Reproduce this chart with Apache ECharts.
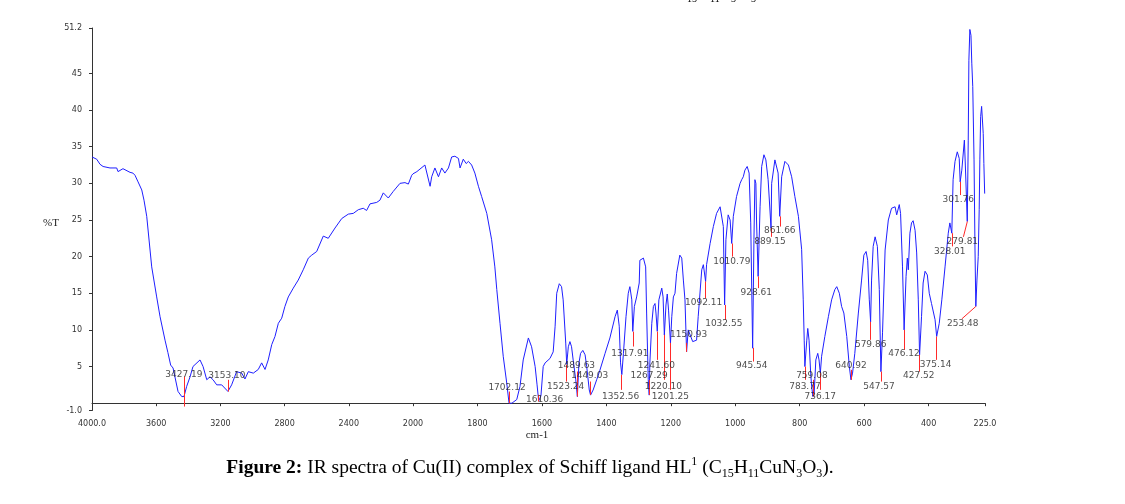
<!DOCTYPE html>
<html><head><meta charset="utf-8">
<script src="https://cdn.jsdelivr.net/npm/echarts@6/dist/echarts.min.js"></script>
<style>html,body{margin:0;padding:0;background:#fff}#c{width:1125px;height:504px}</style>
</head><body><div id="c"></div>
<script>
// ---- spectrum (wavenumber cm-1, %T) ----
const wavenumbers = [4000,3971,3950,3931,3888,3846,3838,3807,3763,3745,3732,3713,3690,3676,3659,3628,3597,3576,3545,3527,3510,3495,3464,3441,3427,3410,3389,3371,3327,3308,3285,3265,3246,3223,3192,3153,3130,3099,3067,3047,3026,2995,2964,2943,2922,2902,2880,2860,2839,2818,2798,2777,2746,2715,2684,2652,2631,2600,2559,2528,2486,2444,2403,2372,2341,2310,2289,2268,2226,2206,2185,2154,2123,2081,2050,2029,2008,2000,
1988,1963,1957,1947,1942,1932,1921,1911,1901,1890,1880,1870,1859,1854,1844,1835,1828,1818,1808,1797,1787,1771,1756,1746,1740,1730,1720,1709,1702,1693,1678,1668,1658,1642,1632,1621,1615,1610,1603,1596,1590,1575,1565,1559,1554,1546,1539,1534,1526,1523,1518,1513,1508,1503,1495,1490,1485,1480,1473,1466,1461,1453,1449,1441,1430,1420,1404,1389,1373,1366,1360,1356,1352,1347,1339,1332,1327,1321,1318,1313,1306,1298,1296,1285,1278,1275,1270,1267,1265,1259,1254,1249,1246,1242,1237,1228,1224,1220,1215,1211,1207,1201,1197,1192,1187,1182,1172,1166,1161,1156,1151,1146,1141,1132,1120,1115,1104,1099,1092,1089,1078,1068,1058,1047,1042,1037,1033,1029,1022,1016,1011,1006,996,985,980,975,970,963,957,952,946,942,939,936,934,929,923,918,911,905,898,889,887,877,871,867,862,856,846,835,825,815,804,794,789,786,784,778,775,771,766,763,759,755,750,744,740,736,732,722,711,701,691,685,677,670,663,654,646,641,636,629,618,608,601,594,589,584,580,577,572,566,559,553,550,548,543,535,525,515,504,499,491,487,481,476,470,466,463,458,453,448,442,437,432,428,422,417,411,404,398,391,380,375,367,359,349,339,334,328,324,318,311,305,302,297,289,286,280,277,275,272,268.5,266,263,259,256,253.5,250,246,243,241,238.5,235.5,230.5,228.5,226];
const transmittance = [33.6,33.3,32.6,32.3,32.1,32.1,31.6,32.0,31.5,31.4,31.1,30.2,29.1,27.7,25.5,18.6,14.5,11.8,8.6,6.9,5.2,4.8,1.6,0.9,0.9,2.3,3.6,5.0,5.9,5.0,3.2,3.6,3.2,2.5,2.5,1.6,2.5,4.3,4.1,3.3,4.3,4.1,4.6,5.5,4.6,5.9,8.0,9.1,10.9,11.6,13.2,14.5,15.7,16.8,18.2,19.8,20.2,20.7,22.8,22.5,23.9,25.2,25.8,25.9,26.4,26.6,26.3,27.2,27.4,27.7,28.7,28.0,28.9,30.0,30.1,29.9,31.1,31.3,
31.6,32.5,32.3,29.6,30.9,32.1,30.9,32.1,31.4,32.1,33.6,33.7,33.4,32.1,33.3,32.7,33.0,32.5,31.4,29.6,28.2,25.9,22.3,18.6,15.5,10.9,6.4,2.7,0.0,0.0,0.5,2.3,5.9,8.9,7.7,5.0,2.5,0.3,1.0,5.0,5.5,6.1,7.0,10.5,15.0,16.3,15.9,14.1,8.2,5.3,7.7,8.4,7.7,5.9,3.2,0.9,5.5,6.8,7.2,6.6,5.0,1.8,1.1,1.8,3.2,4.5,6.8,8.9,11.8,12.7,10.5,5.5,3.9,6.8,11.8,15.0,15.9,14.1,9.8,13.2,14.5,16.4,19.5,19.8,18.6,12.3,3.2,1.1,5.5,10.9,13.2,13.6,12.3,9.8,14.1,15.7,14.5,9.3,13.4,14.9,12.7,8.2,11.8,14.5,15.0,17.7,20.2,19.8,16.8,14.1,7.0,10.0,10.2,8.4,8.6,11.8,18.2,18.9,16.6,18.9,21.8,24.1,25.9,26.8,26.6,24.1,13.4,22.3,25.7,25.0,21.8,25.5,28.2,30.0,30.5,30.9,31.8,32.3,31.4,24.6,7.5,22.3,30.5,30.0,25.0,17.3,26.8,32.3,33.9,33.2,30.5,23.9,30.0,33.2,33.0,31.4,25.5,30.9,33.0,32.5,30.9,28.2,25.5,21.0,14.1,8.6,5.0,8.6,10.2,8.6,4.1,2.3,0.9,1.4,5.9,6.8,5.9,4.1,6.4,9.1,11.8,14.1,15.5,15.9,15.0,13.2,12.3,9.1,5.0,3.2,4.1,6.8,12.3,16.8,20.2,20.7,19.5,14.1,11.1,16.8,21.4,22.7,21.4,15.5,8.6,4.3,9.6,20.9,25.0,26.6,26.8,25.7,27.1,25.9,18.6,10.0,17.3,19.8,18.2,23.2,24.6,24.9,23.6,20.5,14.1,6.6,11.8,16.4,18.0,17.5,15.0,13.6,11.4,9.1,10.9,14.1,18.6,23.2,24.6,23.2,30.5,33.0,34.3,33.4,30.2,31.8,35.9,32.5,24.8,35.9,46.8,51.0,50.2,46.4,43.2,33.2,20.9,13.2,16.8,20.0,26.4,33.2,39.1,40.5,36.8,32.7,28.6];

// ---- annotated peaks ----
const peakWn = [3427.19,3153.10,1702.12,1610.36,1523.24,1489.63,1449.03,1352.56,1317.91,1267.29,1241.60,1220.10,1201.25,1150.93,1092.11,1032.55,1010.79,945.54,928.61,889.15,861.66,783.77,759.08,736.17,640.92,579.86,547.57,476.12,427.52,375.14,328.01,301.76,279.81,253.48];
const peakText = peakWn.map(v => v.toFixed(2));
// red marker segment: from redT1 (at peak) to redT2 (toward label), optional slanted end wavenumber
const redT1 = [3.64,1.59,0.01,0.23,5.23,0.91,1.14,3.87,9.77,1.14,9.77,9.32,8.23,7.0,16.6,13.4,21.8,7.55,17.3,23.9,25.5,5.0,0.91,4.1,3.19,11.1,4.32,10.0,6.6,9.09,23.2,30.2,24.8,13.2];
const redT2 = [-0.46,3.19,1.59,1.14,2.95,4.32,2.95,1.82,7.73,3.19,5.91,3.19,1.82,8.23,14.3,11.37,20.0,5.68,15.7,22.7,24.1,3.19,3.19,1.82,4.55,8.64,2.95,7.28,4.32,5.91,21.4,28.4,22.7,11.5];
const redWn2 = {279.81: 292, 253.48: 297};
// label placement (layout): label centre %T and horizontal pixel shift
const labelT = [3.87,3.77,2.05,0.46,2.27,5.10,3.73,0.91,6.73,3.73,5.10,2.27,0.91,9.32,13.65,10.9,19.3,5.10,15.1,22.1,23.6,2.27,3.77,0.91,5.10,7.96,2.27,6.69,3.77,5.23,20.7,27.8,22.05,10.8];
const labelDx = [0,-1,-2,6,-1,-1,-1,-1,-3,0,-1,-1,0,2,-2,-1,0,-1,-2,-1,0,0,-1,0,0,0,-2,0,-1,-1,-2,-2,-5,-13];

// ---- axis ticks ----
const yTicks = [-1, 5, 10, 15, 20, 25, 30, 35, 40, 45, 51.2];
const xTicksLow = [1800, 1600, 1400, 1200, 1000, 800, 600, 400, 225];

const SPLIT = 2000;
const ptsA = [], ptsB = [];
wavenumbers.forEach((w, i) => {
  if (w >= SPLIT) ptsA.push([w, transmittance[i]]);
  if (w <= SPLIT) ptsB.push([w, transmittance[i]]);
});
const idxA = [], idxB = [];
peakWn.forEach((w, i) => (w >= SPLIT ? idxA : idxB).push(i));
const mkLines = idx => idx.map(i => [
  {coord: [peakWn[i], redT1[i]]},
  {coord: [redWn2[peakWn[i]] !== undefined ? redWn2[peakWn[i]] : peakWn[i], redT2[i]]}
]);
const mkLabels = idx => idx.map(i => ({
  value: [peakWn[i], labelT[i]],
  label: {offset: [labelDx[i], 0], formatter: peakText[i]}
}));

const axisCol = '#333';
const tickFont = {fontFamily: 'DejaVu Sans', fontSize: 8, color: '#333'};
const lineStyle = {color: '#1f1fff', width: 1};
const markStyle = {
  symbol: ['none', 'none'], silent: true, animation: false,
  lineStyle: {color: '#ff2a2a', width: 1, type: 'solid'},
  label: {show: false}, emphasis: {disabled: true}
};
const labelSeries = (xi, yi, data) => ({
  type: 'scatter', xAxisIndex: xi, yAxisIndex: yi, symbolSize: 0, z: 5,
  itemStyle: {color: 'rgba(0,0,0,0)'}, silent: true, animation: false,
  label: {show: true, position: 'inside', color: '#222', fontFamily: 'DejaVu Sans', fontSize: 9},
  data
});

const chart = echarts.init(document.getElementById('c'), null, {renderer: 'canvas'});
chart.setOption({
  animation: false,
  backgroundColor: '#fff',
  grid: [
    {left: 92, width: 321, top: 28, bottom: 93.5, containLabel: false, outerBoundsMode: 'none'},
    {left: 413, width: 572, top: 28, bottom: 93.5, containLabel: false, outerBoundsMode: 'none'}
  ],
  xAxis: [
    {gridIndex: 0, type: 'value', min: 2000, max: 4000, interval: 400, inverse: true,
     axisLine: {lineStyle: {color: axisCol}}, axisTick: {length: 3, lineStyle: {color: axisCol}},
     splitLine: {show: false},
     axisLabel: Object.assign({margin: 9, showMinLabel: true, showMaxLabel: true,
       formatter: v => v === 4000 ? '4000.0' : String(v)}, tickFont)},
    {gridIndex: 1, type: 'value', min: 225, max: 2000, inverse: true,
     axisLine: {lineStyle: {color: axisCol}},
     axisTick: {length: 3, lineStyle: {color: axisCol}, customValues: xTicksLow},
     splitLine: {show: false},
     axisLabel: Object.assign({margin: 9, customValues: xTicksLow,
       formatter: v => v === 225 ? '225.0' : String(v)}, tickFont)}
  ],
  yAxis: [
    {gridIndex: 0, type: 'value', min: -1, max: 51.2,
     axisLine: {show: true, lineStyle: {color: axisCol}},
     axisTick: {show: true, length: 3, lineStyle: {color: axisCol}, customValues: yTicks},
     splitLine: {show: false},
     axisLabel: Object.assign({margin: 10, customValues: yTicks,
       formatter: v => v === -1 ? '-1.0' : (v === 51.2 ? '51.2' : String(v))}, tickFont)},
    {gridIndex: 1, type: 'value', min: -1, max: 51.2, show: false}
  ],
  series: [
    {type: 'line', xAxisIndex: 0, yAxisIndex: 0, data: ptsA, showSymbol: false, symbol: 'none',
     lineStyle, silent: true, markLine: Object.assign({data: mkLines(idxA)}, markStyle)},
    {type: 'line', xAxisIndex: 1, yAxisIndex: 1, data: ptsB, showSymbol: false, symbol: 'none',
     lineStyle, silent: true, markLine: Object.assign({data: mkLines(idxB)}, markStyle)},
    labelSeries(0, 0, mkLabels(idxA)),
    labelSeries(1, 1, mkLabels(idxB))
  ],
  graphic: [
    {type: 'text', left: 43, top: 218, silent: true,
     style: {text: '%T', fontFamily: 'Liberation Serif', fontSize: 11, fill: '#222'}},
    {type: 'text', x: 537, y: 435, silent: true,
     style: {text: 'cm-1', fontFamily: 'Liberation Serif', fontSize: 11, fill: '#222', align: 'center', verticalAlign: 'middle'}},
    {type: 'text', x: 530, y: 468, silent: true,
     style: {
       text: '{b|Figure 2:} IR spectra of Cu(II) complex of Schiff ligand HL{sup|1} (C{sub|15}H{sub|11}CuN{sub|3}O{sub|3}).',
       fontFamily: 'Liberation Serif', fontSize: 19.5, fill: '#000', align: 'center', verticalAlign: 'middle',
       lineHeight: 24,
       rich: {
         b: {fontFamily: 'Liberation Serif', fontSize: 19.5, fontWeight: 'bold', fill: '#000', lineHeight: 24},
         sub: {fontFamily: 'Liberation Serif', fontSize: 12, fill: '#000', lineHeight: 12, verticalAlign: 'bottom'},
         sup: {fontFamily: 'Liberation Serif', fontSize: 12, fill: '#000', lineHeight: 12, verticalAlign: 'top'}
       }
     }},
    {type: 'text', x: 687, y: -6, silent: true, style: {text: '15', fontFamily: 'Liberation Serif', fontSize: 10, fill: '#000'}},
    {type: 'text', x: 710, y: -6, silent: true, style: {text: '11', fontFamily: 'Liberation Serif', fontSize: 10, fill: '#000'}},
    {type: 'text', x: 731, y: -6, silent: true, style: {text: '3', fontFamily: 'Liberation Serif', fontSize: 10, fill: '#000'}},
    {type: 'text', x: 751, y: -6, silent: true, style: {text: '3', fontFamily: 'Liberation Serif', fontSize: 10, fill: '#000'}}
  ]
});
</script></body></html>
